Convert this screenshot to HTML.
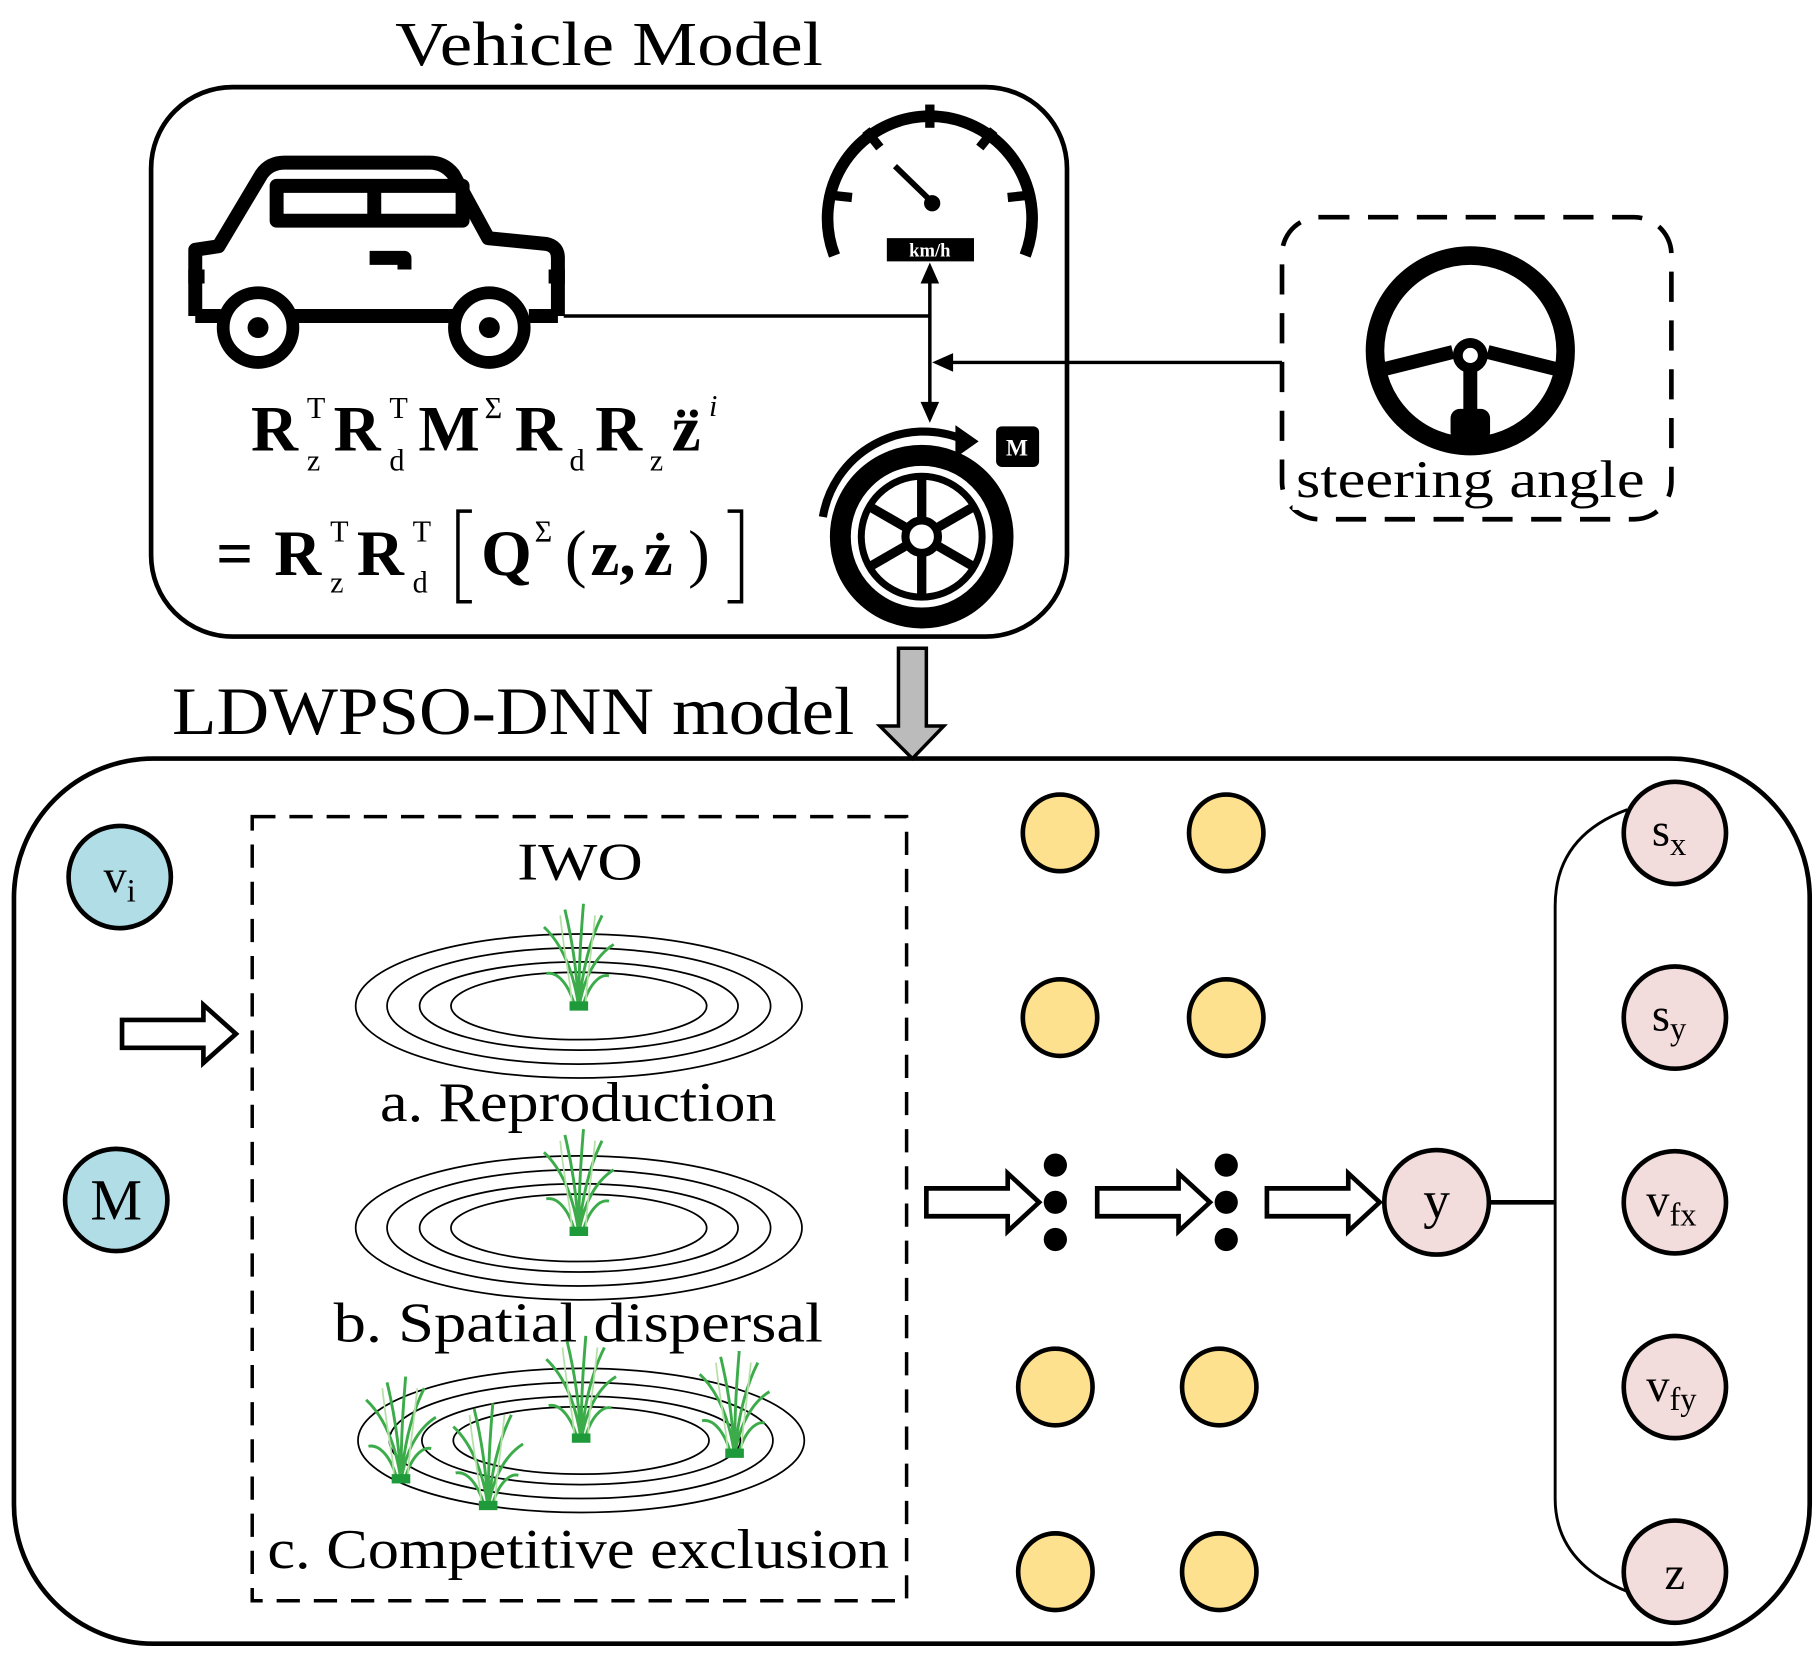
<!DOCTYPE html>
<html><head><meta charset="utf-8"><style>
html,body{margin:0;padding:0;background:#fff}
svg{display:block}
text{font-family:"Liberation Serif",serif}
</style></head><body>
<svg width="1819" height="1660" viewBox="0 0 1565 1429" preserveAspectRatio="none" xmlns="http://www.w3.org/2000/svg">
<defs>
<g id="grass">
<path d="M0 0 C-4 -30 -14 -55 -30 -70 M0 0 C-2 -35 -6 -60 -12 -85 M0 0 C0 -40 2 -65 4 -90 M0 0 C3 -35 10 -60 20 -80 M0 0 C4 -25 14 -45 30 -55 M-3 0 C-8 -20 -18 -32 -28 -30 M3 0 C8 -20 18 -30 26 -28" fill="none" stroke="#3cac4a" stroke-width="2.5"/>
<path d="M-6 0 C-6 -20 -12 -40 -16 -80 M6 0 C6 -20 10 -40 14 -80" fill="none" stroke="#b6e0a8" stroke-width="1.5"/>
<rect x="-8" y="-6" width="16" height="8" fill="#1e9a3a"/>
</g>
<g id="rings" fill="none" stroke="#000" stroke-width="1.5">
<ellipse rx="192" ry="62"/><ellipse rx="165" ry="50"/><ellipse rx="137" ry="38"/><ellipse rx="110" ry="29"/>
</g>
</defs>

<text x="340" y="56" font-size="54" textLength="368" lengthAdjust="spacingAndGlyphs">Vehicle Model</text>
<rect x="130" y="75" width="788" height="473" rx="70" fill="none" stroke="#000" stroke-width="4"/>

<!-- car -->
<g fill="none" stroke="#000" stroke-width="12" stroke-linejoin="round">
<path d="M168 272 L168 215 L188 212 L225 150 Q232 140 245 140 L370 140 Q382 140 390 150 L420 205 L470 210 Q480 212 480 222 L480 272"/>
<rect x="238" y="160" width="160" height="30"/>
<line x1="322" y1="160" x2="322" y2="190"/>
<path d="M318 222 L348 222 L348 232"/>
<path d="M168 272 L190 272 M252 272 L392 272 M455 272 L480 272"/>
<line x1="162" y1="238" x2="176" y2="238"/><line x1="472" y1="238" x2="486" y2="238"/>
</g>
<circle cx="222" cy="282" r="30" fill="#fff" stroke="#000" stroke-width="11"/>
<circle cx="222" cy="282" r="9" fill="#000"/>
<circle cx="421" cy="282" r="30" fill="#fff" stroke="#000" stroke-width="11"/>
<circle cx="421" cy="282" r="9" fill="#000"/>

<!-- speedometer -->
<path d="M718 220 A88 88 0 1 1 882 220" fill="none" stroke="#000" stroke-width="10"/>
<g stroke="#000" stroke-width="8">
<line x1="800" y1="90" x2="800" y2="110"/>
<line x1="745" y1="112" x2="757" y2="127"/><line x1="855" y1="112" x2="843" y2="127"/>
<line x1="714" y1="168" x2="733" y2="170"/><line x1="886" y1="168" x2="867" y2="170"/>
</g>
<line x1="770" y1="143" x2="803" y2="175" stroke="#000" stroke-width="5"/>
<circle cx="802" cy="175" r="7" fill="#000"/>
<rect x="763" y="205" width="75" height="20" fill="#000"/>
<text x="800" y="221" font-size="16" font-weight="bold" fill="#fff" text-anchor="middle">km/h</text>

<g stroke="#000" stroke-width="3" fill="none">
<line x1="485" y1="272" x2="800" y2="272"/>
<line x1="800" y1="240" x2="800" y2="350"/>
<line x1="1103" y1="312" x2="815" y2="312"/>
</g>
<polygon points="800,226 792,244 808,244" fill="#000"/>
<polygon points="800,364 792,346 808,346" fill="#000"/>
<polygon points="802,312 820,304 820,320" fill="#000"/>

<!-- wheel -->
<circle cx="793" cy="462" r="70" fill="none" stroke="#000" stroke-width="18"/>
<circle cx="793" cy="462" r="52" fill="none" stroke="#000" stroke-width="6"/>
<g stroke="#000" stroke-width="8">
<line x1="793" y1="410" x2="793" y2="514"/>
<line x1="748" y1="436" x2="838" y2="488"/>
<line x1="748" y1="488" x2="838" y2="436"/>
</g>
<circle cx="793" cy="462" r="14" fill="#fff" stroke="#000" stroke-width="7"/>
<path d="M708 445 A88 88 0 0 1 828 378" fill="none" stroke="#000" stroke-width="7"/>
<polygon points="842,380 822,366 822,394" fill="#000"/>
<rect x="857" y="367" width="37" height="35" rx="5" fill="#000"/>
<text x="875" y="392" font-size="20" font-weight="bold" fill="#fff" text-anchor="middle">M</text>

<!-- equation -->
<g font-weight="bold" font-size="56">
<text x="216" y="388">R</text><text x="264" y="360" font-size="26" font-weight="normal">T</text><text x="264" y="405" font-size="26" font-weight="normal">z</text>
<text x="287" y="388">R</text><text x="335" y="360" font-size="26" font-weight="normal">T</text><text x="335" y="405" font-size="26" font-weight="normal">d</text>
<text x="360" y="388">M</text><text x="417" y="360" font-size="26" font-weight="normal">Σ</text>
<text x="443" y="388">R</text><text x="490" y="405" font-size="26" font-weight="normal">d</text>
<text x="512" y="388">R</text><text x="559" y="405" font-size="26" font-weight="normal">z</text>
<text x="578" y="388">z</text><text x="610" y="358" font-size="26" font-weight="normal" font-style="italic">i</text>
<text x="186" y="495">=</text>
<text x="236" y="495">R</text><text x="284" y="466" font-size="26" font-weight="normal">T</text><text x="284" y="510" font-size="26" font-weight="normal">z</text>
<text x="307" y="495">R</text><text x="355" y="466" font-size="26" font-weight="normal">T</text><text x="355" y="510" font-size="26" font-weight="normal">d</text>
<text x="414" y="495">Q</text><text x="460" y="466" font-size="26" font-weight="normal">Σ</text>
<text x="486" y="495" font-weight="normal">(</text><text x="508" y="495">z,</text><text x="554" y="495">z</text><text x="592" y="495" font-weight="normal">)</text>
</g>
<circle cx="586" cy="356" r="3.5" fill="#000"/><circle cx="597" cy="356" r="3.5" fill="#000"/>
<circle cx="568" cy="462" r="3.5" fill="#000"/>
<path d="M406 440 L394 440 L394 518 L406 518 M626 440 L638 440 L638 518 L626 518" fill="none" stroke="#000" stroke-width="3"/>

<!-- steering -->
<rect x="1103" y="187" width="335" height="260" rx="32" fill="none" stroke="#000" stroke-width="4" stroke-dasharray="26 16"/>
<circle cx="1265" cy="302" r="82" fill="none" stroke="#000" stroke-width="16"/>
<g stroke="#000" stroke-width="12" fill="none">
<path d="M1190 318 L1250 303"/><path d="M1340 318 L1280 303"/><path d="M1265 318 L1265 378"/>
</g>
<rect x="1248" y="352" width="34" height="28" rx="8" fill="#000"/>
<circle cx="1265" cy="306" r="15" fill="#000"/><circle cx="1265" cy="306" r="8" fill="#fff" stroke="#000" stroke-width="3"/>
<rect x="1112" y="395" width="310" height="44" fill="#fff"/>
<text x="1115" y="428" font-size="46" textLength="300" lengthAdjust="spacingAndGlyphs">steering angle</text>

<polygon points="773,558 797,558 797,625 812,625 785,653 757,625 773,625" fill="#bbb" stroke="#000" stroke-width="3"/>
<text x="148" y="632" font-size="58" textLength="587" lengthAdjust="spacingAndGlyphs">LDWPSO-DNN model</text>

<!-- bottom box -->
<rect x="12" y="653" width="1545" height="762" rx="120" fill="none" stroke="#000" stroke-width="4"/>
<rect x="217" y="703" width="563" height="675" fill="none" stroke="#000" stroke-width="3" stroke-dasharray="20 12"/>
<text x="445" y="757" font-size="46" textLength="108" lengthAdjust="spacingAndGlyphs">IWO</text>

<use href="#rings" x="498" y="866"/>
<use href="#grass" x="498" y="868"/>
<text x="327" y="965" font-size="48" textLength="341" lengthAdjust="spacingAndGlyphs">a. Reproduction</text>
<use href="#rings" x="498" y="1057"/>
<use href="#grass" x="498" y="1062"/>
<text x="287" y="1155" font-size="48" textLength="421" lengthAdjust="spacingAndGlyphs">b.  Spatial dispersal</text>
<use href="#rings" x="500" y="1240"/>
<use href="#grass" x="500" y="1240"/>
<use href="#grass" x="345" y="1275"/>
<use href="#grass" x="420" y="1298"/>
<use href="#grass" x="632" y="1253"/>
<text x="230" y="1350" font-size="48" textLength="535" lengthAdjust="spacingAndGlyphs">c. Competitive exclusion</text>

<circle cx="103" cy="755" r="44" fill="#b0dde6" stroke="#000" stroke-width="4"/>
<text x="103" y="768" font-size="40" text-anchor="middle">v<tspan font-size="28" dy="8">i</tspan></text>
<circle cx="100" cy="1033" r="44" fill="#b0dde6" stroke="#000" stroke-width="4"/>
<text x="100" y="1050" font-size="50" text-anchor="middle">M</text>

<g fill="#fff" stroke="#000" stroke-width="4" stroke-linejoin="miter">
<polygon points="105,878 175,878 175,865 203,890 175,915 175,902 105,902"/>
<polygon points="797,1023 867,1023 867,1010 894,1035 867,1060 867,1047 797,1047"/>
<polygon points="944,1023 1014,1023 1014,1010 1041,1035 1014,1060 1014,1047 944,1047"/>
<polygon points="1090,1023 1160,1023 1160,1010 1187,1035 1160,1060 1160,1047 1090,1047"/>
</g>

<g fill="#fde18e" stroke="#000" stroke-width="4">
<ellipse cx="912" cy="717" rx="32" ry="33"/><ellipse cx="1055" cy="717" rx="32" ry="33"/>
<ellipse cx="912" cy="876" rx="32" ry="33"/><ellipse cx="1055" cy="876" rx="32" ry="33"/>
<ellipse cx="908" cy="1194" rx="32" ry="33"/><ellipse cx="1049" cy="1194" rx="32" ry="33"/>
<ellipse cx="908" cy="1353" rx="32" ry="33"/><ellipse cx="1049" cy="1353" rx="32" ry="33"/>
</g>
<g fill="#000">
<circle cx="908" cy="1003" r="10"/><circle cx="908" cy="1035" r="10"/><circle cx="908" cy="1067" r="10"/>
<circle cx="1055" cy="1003" r="10"/><circle cx="1055" cy="1035" r="10"/><circle cx="1055" cy="1067" r="10"/>
</g>

<line x1="1281" y1="1035" x2="1338" y2="1035" stroke="#000" stroke-width="4"/>
<path d="M1400 697 Q1338 720 1338 780 L1338 1290 Q1338 1345 1400 1370" fill="none" stroke="#000" stroke-width="2.5"/>
<g fill="#f3dcdc" stroke="#000" stroke-width="4">
<circle cx="1236" cy="1035" r="45"/>
<circle cx="1441" cy="717" r="44"/><circle cx="1441" cy="876" r="44"/><circle cx="1441" cy="1035" r="44"/><circle cx="1441" cy="1194" r="44"/><circle cx="1441" cy="1353" r="44"/>
</g>
<text x="1236" y="1048" font-size="46" text-anchor="middle">y</text>
<text x="1436" y="728" font-size="40" text-anchor="middle">s<tspan font-size="28" dy="8">x</tspan></text>
<text x="1436" y="887" font-size="40" text-anchor="middle">s<tspan font-size="28" dy="8">y</tspan></text>
<text x="1438" y="1047" font-size="40" text-anchor="middle">v<tspan font-size="28" dy="8">fx</tspan></text>
<text x="1438" y="1206" font-size="40" text-anchor="middle">v<tspan font-size="28" dy="8">fy</tspan></text>
<text x="1441" y="1368" font-size="40" text-anchor="middle">z</text>
</svg>
</body></html>
